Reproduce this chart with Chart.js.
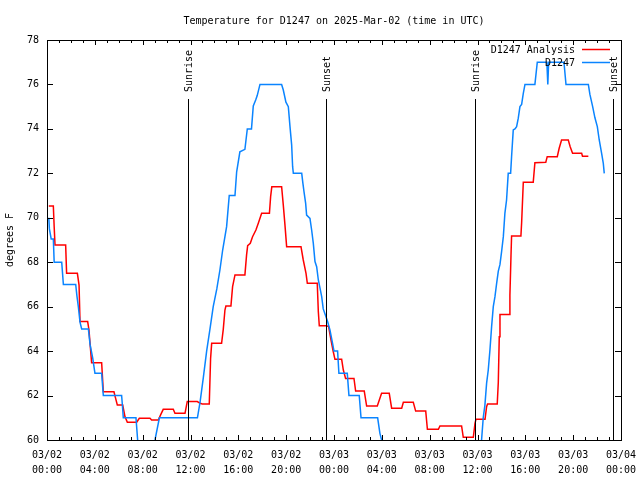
<!DOCTYPE html>
<html>
<head>
<meta charset="utf-8">
<script src="https://cdn.jsdelivr.net/npm/chart.js@4"></script>
<style>html,body{margin:0;padding:0;background:#fff;}canvas{display:block;}</style>
</head>
<body>
<canvas id="c" width="640" height="480"></canvas>
<script>
const chartTitle = 'Temperature for D1247 on 2025-Mar-02 (time in UTC)';
const yTitle = 'degrees F';
const seriesNames = ['D1247 Analysis', 'D1247'];
const xTickDates = ['03/02','03/02','03/02','03/02','03/02','03/02','03/03','03/03','03/03','03/03','03/03','03/03','03/04'];
const xTickTimes = ['00:00','04:00','08:00','12:00','16:00','20:00','00:00','04:00','08:00','12:00','16:00','20:00','00:00'];
const sunTimes = [11.81, 23.3, 35.81, 47.35];
const sunLabels = ['Sunrise', 'Sunset', 'Sunrise', 'Sunset'];

// hours since 03/02 00:00 UTC
const stationHours = [0.15,0.2,0.35,0.53,0.6,1.23,1.37,2.4,2.5,2.62,2.76,2.9,3.46,3.6,3.82,4.01,4.57,4.71,6.24,6.3,6.38,7.44,7.58,8.2,9.03,9.4,12.58,12.8,13.07,13.35,13.63,13.9,14.2,14.46,14.69,15.02,15.24,15.72,15.86,16.13,16.55,16.75,17.1,17.25,17.45,17.58,17.81,19.62,19.76,19.98,20.18,20.32,20.46,20.54,20.6,21.3,21.4,21.49,21.63,21.71,21.99,22.13,22.27,22.41,22.55,22.69,22.83,22.97,23.1,23.33,23.47,23.66,23.88,24.0,24.3,24.41,25.11,25.25,26.11,26.26,27.65,27.84,27.98,29.5,32.0,34.5,36.34,36.48,36.62,36.76,36.9,37.04,37.18,37.32,37.46,37.6,37.74,37.88,38.02,38.16,38.29,38.43,38.57,38.77,38.85,38.99,39.13,39.27,39.41,39.55,39.69,39.83,39.97,40.8,41.0,41.8,41.88,41.95,43.23,43.4,45.27,45.4,45.63,45.82,46.02,46.18,46.38,46.52,46.6];
const stationTemps = [70.0,69.5,69.05,69.05,68.0,68.0,67.0,67.0,66.5,66.0,65.3,65.0,65.0,64.3,63.7,63.0,63.0,62.0,62.0,61.6,61.0,61.0,60.0,59.0,60.0,61.0,61.0,61.7,62.8,64.0,65.0,66.0,66.8,67.65,68.55,69.6,71.0,71.0,72.07,72.97,73.08,74.0,74.0,75.03,75.3,75.5,76.0,76.0,75.75,75.2,75.0,74.1,73.27,72.3,72.0,72.0,71.55,71.18,70.65,70.12,69.97,69.45,68.85,68.03,67.8,67.2,66.83,66.45,65.9,65.55,65.32,64.95,64.35,64.0,64.0,63.0,63.0,62.0,62.0,61.0,61.0,60.3,60.0,59.0,58.0,58.5,60.0,61.0,61.57,62.55,63.15,64.05,65.1,66.0,66.45,67.05,67.6,67.9,68.5,69.15,70.2,70.8,72.0,72.0,72.75,73.95,74.0,74.1,74.48,75.0,75.1,75.6,76.0,76.0,77.0,77.0,76.0,77.0,77.0,76.0,76.0,75.55,75.0,74.5,74.1,73.5,72.9,72.45,72.0];

const analysisHours = [0.15,0.53,0.6,0.67,1.56,1.64,2.54,2.68,2.76,3.4,3.51,3.6,3.73,4.57,4.71,5.6,5.7,5.88,6.33,6.52,6.72,7.5,7.72,8.61,8.75,9.31,9.5,9.72,10.56,10.7,11.54,11.73,12.57,12.8,12.99,13.57,13.68,13.77,14.6,14.74,14.88,14.96,15.38,15.52,15.72,16.55,16.69,16.78,17.0,17.19,17.47,17.67,17.95,18.6,18.7,18.8,19.62,19.76,19.9,20.04,21.24,21.43,21.66,21.77,22.6,22.69,22.77,23.38,23.55,23.75,23.94,24.08,24.64,24.78,24.97,25.67,25.81,26.53,26.73,27.62,27.98,28.62,28.82,29.66,29.8,30.63,30.83,31.67,31.81,32.73,32.86,34.67,34.81,35.65,35.79,35.87,36.63,36.76,36.84,37.65,37.74,37.82,37.88,38.66,38.71,38.8,38.85,39.63,39.69,39.83,40.66,40.8,41.71,41.83,42.67,42.83,43.03,43.59,43.75,43.95,44.71,44.78,45.27];
const analysisTemps = [70.53,70.53,69.6,68.78,68.78,67.5,67.5,66.97,65.33,65.33,64.95,64.35,63.48,63.48,62.17,62.17,61.95,61.58,61.58,61.05,60.8,60.8,60.98,60.98,60.9,60.9,61.13,61.38,61.38,61.2,61.2,61.73,61.73,61.65,61.62,61.62,63.67,64.35,64.35,64.98,65.85,66.03,66.03,66.9,67.43,67.43,68.33,68.75,68.85,69.15,69.45,69.75,70.2,70.2,70.95,71.4,71.4,70.57,69.67,68.7,68.7,68.1,67.5,67.05,67.05,65.77,65.14,65.14,65.1,64.5,63.97,63.63,63.63,63.15,62.77,62.77,62.2,62.2,61.53,61.53,62.1,62.1,61.43,61.43,61.7,61.7,61.3,61.3,60.48,60.48,60.63,60.63,60.12,60.12,60.75,60.93,60.93,61.5,61.62,61.62,62.6,64.65,65.65,65.65,66.52,68.28,69.18,69.18,69.78,71.6,71.6,72.48,72.5,72.75,72.75,73.13,73.5,73.5,73.2,72.9,72.9,72.77,72.77];

const RED = '#ff0000';
const BLUE = '#0a84ff';
const FONT_FAMILY = '"DejaVu Sans Mono", monospace';
const FONT = '10px ' + FONT_FAMILY;

function pts(xs, ys) { return xs.map((x, i) => ({ x: x, y: ys[i] })); }

const framePlugin = {
  id: 'frame',
  afterDatasetsDraw(chart) {
    const ctx = chart.ctx;
    const a = chart.chartArea;
    const xs = chart.scales.x, ys = chart.scales.y;
    ctx.save();
    ctx.strokeStyle = '#000';
    ctx.lineWidth = 1;
    ctx.font = FONT;
    ctx.fillStyle = '#000';
    sunTimes.forEach((t, i) => {
      const px = Math.round(xs.getPixelForValue(t)) + 0.5;
      ctx.beginPath();
      ctx.moveTo(px, 99);
      ctx.lineTo(px, a.bottom);
      ctx.stroke();
      ctx.save();
      ctx.translate(px + 1, 92);
      ctx.rotate(-Math.PI / 2);
      ctx.textAlign = 'left';
      ctx.textBaseline = 'middle';
      ctx.fillText(sunLabels[i], 0, 0);
      ctx.restore();
    });
    ctx.strokeRect(Math.round(a.left) + 0.5, Math.round(a.top) + 0.5, Math.round(a.right - a.left), Math.round(a.bottom - a.top));
    ctx.beginPath();
    for (let h = 0; h <= 48; h++) {
      const px = Math.round(xs.getPixelForValue(h)) + 0.5;
      const len = (h % 4 === 0) ? 5 : 3;
      ctx.moveTo(px, a.bottom); ctx.lineTo(px, a.bottom - len);
      ctx.moveTo(px, a.top); ctx.lineTo(px, a.top + len);
    }
    for (let v = 60; v <= 78; v += 2) {
      const py = Math.round(ys.getPixelForValue(v)) + 0.5;
      ctx.moveTo(a.left, py); ctx.lineTo(a.left + 6, py);
      ctx.moveTo(a.right, py); ctx.lineTo(a.right - 6, py);
    }
    ctx.stroke();
    const cols = [RED, BLUE];
    const rowsY = [50, 63];
    ctx.textAlign = 'right';
    ctx.textBaseline = 'middle';
    seriesNames.forEach((n, i) => {
      ctx.fillStyle = '#000';
      ctx.fillText(n, 575, rowsY[i]);
      ctx.strokeStyle = cols[i];
      ctx.lineWidth = 1.5;
      ctx.beginPath();
      ctx.moveTo(582, rowsY[i] - 0.5);
      ctx.lineTo(610, rowsY[i] - 0.5);
      ctx.stroke();
    });
    ctx.fillStyle = '#000';
    ctx.textAlign = 'center';
    ctx.textBaseline = 'middle';
    ctx.fillText(chartTitle, (a.left + a.right) / 2, 21);
    ctx.save();
    ctx.translate(10, 240);
    ctx.rotate(-Math.PI / 2);
    ctx.textAlign = 'center';
    ctx.textBaseline = 'middle';
    ctx.fillText(yTitle, 0, 0);
    ctx.restore();
    ctx.restore();
  }
};

new Chart(document.getElementById('c'), {
  type: 'line',
  data: {
    datasets: [
      { label: seriesNames[1], data: pts(stationHours, stationTemps), borderColor: BLUE, borderWidth: 1.5, pointRadius: 0, tension: 0, fill: false, order: 1 },
      { label: seriesNames[0], data: pts(analysisHours, analysisTemps), borderColor: RED, borderWidth: 1.5, pointRadius: 0, tension: 0, fill: false, order: 2 }
    ]
  },
  options: {
    responsive: false,
    animation: false,
    devicePixelRatio: 1,
    layout: { padding: { top: 40, right: 19, left: 0, bottom: 0 } },
    plugins: { legend: { display: false }, title: { display: false }, tooltip: { enabled: false } },
    scales: {
      x: {
        type: 'linear', min: 0, max: 48,
        grid: { display: false, drawTicks: false },
        border: { display: false },
        afterFit(s) { s.height = 40; s.paddingLeft = 0; s.paddingRight = 0; },
        afterBuildTicks(s) { s.ticks = xTickDates.map((d, i) => ({ value: i * 4 })); },
        ticks: {
          autoSkip: false, maxRotation: 0, padding: 8, color: '#000',
          font: { family: FONT_FAMILY, size: 10, lineHeight: 1.5 },
          callback(v) { const i = Math.round(v / 4); return [xTickDates[i], xTickTimes[i]]; }
        }
      },
      y: {
        min: 60, max: 78,
        grid: { display: false, drawTicks: false },
        border: { display: false },
        afterFit(s) { s.width = 47; },
        ticks: { stepSize: 2, padding: 8, color: '#000', font: { family: FONT_FAMILY, size: 10 } }
      }
    }
  },
  plugins: [framePlugin]
});
</script>
</body>
</html>
